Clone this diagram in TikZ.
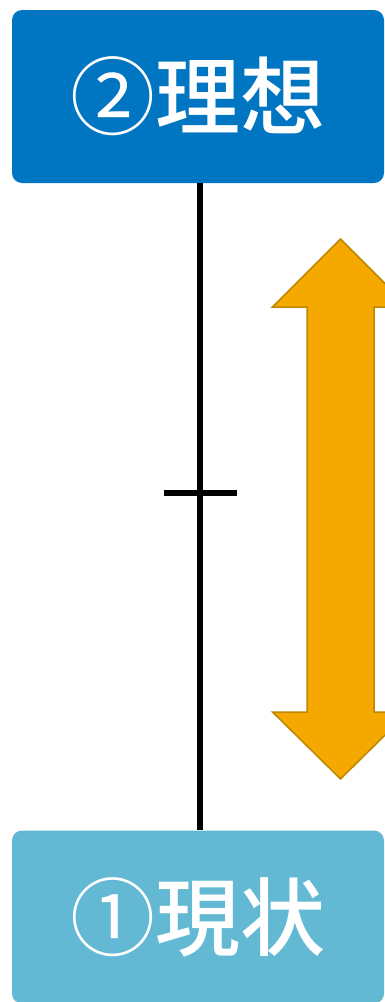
\documentclass[tikz,border=0pt]{standalone}
\usepackage{fontspec}
\usepackage{tikz}
\usetikzlibrary{positioning,calc}
\newfontfamily\cjk{Noto Sans CJK JP}[BoldFont={Noto Sans CJK JP Medium}]
\definecolor{idealblue}{RGB}{0,117,194}
\definecolor{nowblue}{RGB}{99,185,211}
\definecolor{gapfill}{RGB}{245,168,0}
\definecolor{gapline}{RGB}{190,135,0}
\newcommand{\circnum}[1]{{\mdseries #1}}
\tikzset{
  statebox/.style={rounded corners=10pt,minimum width=372pt,minimum height=173pt,
    text=white,font=\cjk\bfseries\fontsize{85}{85}\selectfont,inner sep=0pt},
  axis/.style={line width=6pt,black}
}

\begin{document}
\begin{tikzpicture}[x=1pt,y=-1pt]
  \clip (0,0) rectangle (385,1002);
  \node[statebox,fill=idealblue] (ideal) at (198,96.5) {\raisebox{-7pt}{\circnum{②}理想}};
  \node[statebox,fill=nowblue] (now) at (198,917) {\raisebox{-10pt}{\circnum{①}現状}};
  \draw[axis] (ideal.south -| 200,0) -- (now.north -| 200,0) coordinate[pos=0.478] (mid);
  \draw[axis] ($(mid)+(-36,0)$) -- ($(mid)+(37,0)$);
  % gap arrow
  \draw[fill=gapfill,draw=gapline,line width=1.5pt,line join=miter]
    (340.5,239) -- (408.5,307) -- (374,307) -- (374,712) -- (408.5,712)
    -- (340.5,779) -- (272.5,712) -- (307,712) -- (307,307) -- (272.5,307) -- cycle;
\end{tikzpicture}
\end{document}
